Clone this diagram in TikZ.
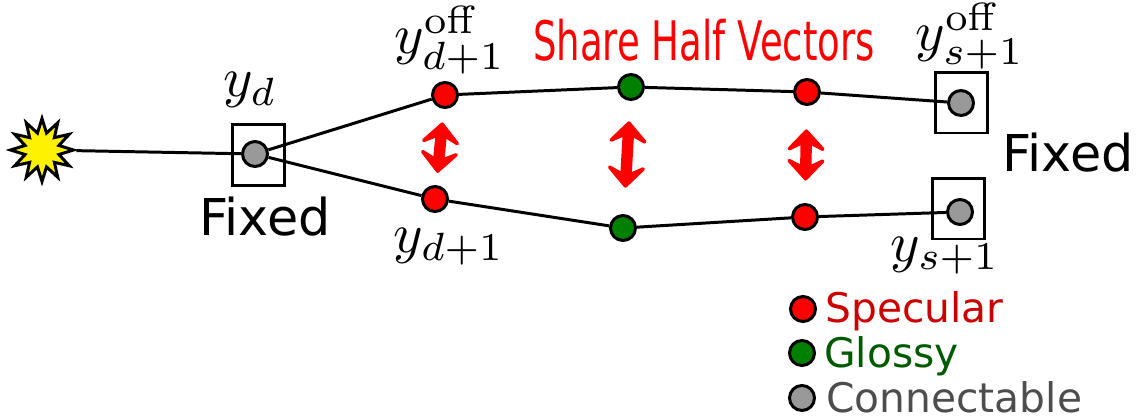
\documentclass[tikz,border=0pt]{standalone}
\usepackage[no-math]{fontspec}
\setmainfont{DejaVu Sans}
\usetikzlibrary{arrows.meta,shapes.geometric}
\usepackage{xcolor}
\definecolor{specularred}{RGB}{255,0,0}
\definecolor{glossygreen}{RGB}{0,128,0}
\definecolor{connectgray}{RGB}{153,153,153}
\definecolor{speculartext}{RGB}{204,0,0}
\definecolor{glossytext}{RGB}{0,90,0}
\definecolor{connecttext}{RGB}{77,77,77}
\newcommand{\pathlabel}[1]{\scalebox{3.2}{$#1$}}
\tikzset{
    vertex/.style={circle,draw=black,line width=1.7pt,minimum size=0.5cm,inner sep=0pt},
    specular/.style={vertex,fill=specularred},
    glossy/.style={vertex,fill=glossygreen},
    connectable/.style={vertex,fill=connectgray},
    fixbox/.style={rectangle,draw=black,line width=1.7pt,minimum width=1.04cm,minimum height=1.22cm,inner sep=0pt},
    pathline/.style={line width=1.7pt},
    sharearrow/.style={specularred,line width=6.5pt,{Stealth[length=15pt,width=28pt,inset=7pt,round]}-{Stealth[length=15pt,width=28pt,inset=7pt,round]}},
    mathlabel/.style={inner sep=0pt},
    fixedlabel/.style={font=\fontsize{28.9}{32}\selectfont,inner sep=0pt},
    legendlabel/.style={font=\fontsize{23.2}{26}\selectfont,anchor=base west,inner sep=0pt}
}

\begin{document}
\begin{tikzpicture}[x=0.02cm,y=-0.02cm]
    \useasboundingbox (0,0) rectangle (1138,419);

    \node[star,star points=12,star point ratio=1.8,minimum size=1.26cm,inner sep=0pt,
          draw=black,line width=1.7pt,fill=yellow] (light) at (42,150) {};

    \node[fixbox] (boxd) at (258.5,155) {};
    \node[fixbox] (boxtop) at (961.5,102.5) {};
    \node[fixbox] (boxbot) at (958.5,208.5) {};

    \node[connectable] (yd) at (255,154) {};
    \node[specular] (topa) at (445,95) {};
    \node[glossy] (topb) at (631,87) {};
    \node[specular] (topc) at (807,92) {};
    \node[connectable] (topd) at (961,103) {};
    \node[specular] (bota) at (435,199) {};
    \node[glossy] (botb) at (623,228) {};
    \node[specular] (botc) at (805,217) {};
    \node[connectable] (botd) at (960,212) {};

    \draw[pathline] (light) -- (yd);
    \draw[pathline] (yd) -- (topa) -- (topb) -- (topc) -- (topd);
    \draw[pathline] (yd) -- (bota) -- (botb) -- (botc) -- (botd);

    \draw[sharearrow,shorten <=7.7pt,shorten >=7pt] (topa) -- (bota);
    \draw[sharearrow,shorten <=11.6pt,shorten >=15pt] (topb) -- (botb);
    \draw[sharearrow,shorten <=13.3pt,shorten >=12.8pt] (topc) -- (botc);

    \node[mathlabel] (labeld) at (250,90) {\pathlabel{y_d}};
    \node[mathlabel] (labeltopd) at (450,40) {\pathlabel{y_{d+1}^{\mathrm{off}}}};
    \node[mathlabel] (labelbotd) at (449,247) {\pathlabel{y_{d+1}}};
    \node[mathlabel] (labeltops) at (970,36) {\pathlabel{y_{s+1}^{\mathrm{off}}}};
    \node[mathlabel] (labelbots) at (945,256) {\pathlabel{y_{s+1}}};

    \node[fixedlabel] (fixeda) at (265,217) {Fixed};
    \node[fixedlabel] (fixedb) at (1068,153) {Fixed};

    \node[text=specularred,font=\fontsize{31}{34}\selectfont,inner sep=0pt] (share) at (704,40)
      {\scalebox{0.68}[1]{Share Half Vectors}};

    \node[specular] (keyspec) at (803,309) {};
    \node[glossy] (keygloss) at (802,353) {};
    \node[connectable] (keyconn) at (802,398) {};
    \node[legendlabel,text=speculartext] (textspec) at (825,322) {Specular};
    \node[legendlabel,text=glossytext] (textgloss) at (824,367) {Glossy};
    \node[legendlabel,text=connecttext] (textconn) at (826,412) {Connectable};
\end{tikzpicture}
\end{document}
